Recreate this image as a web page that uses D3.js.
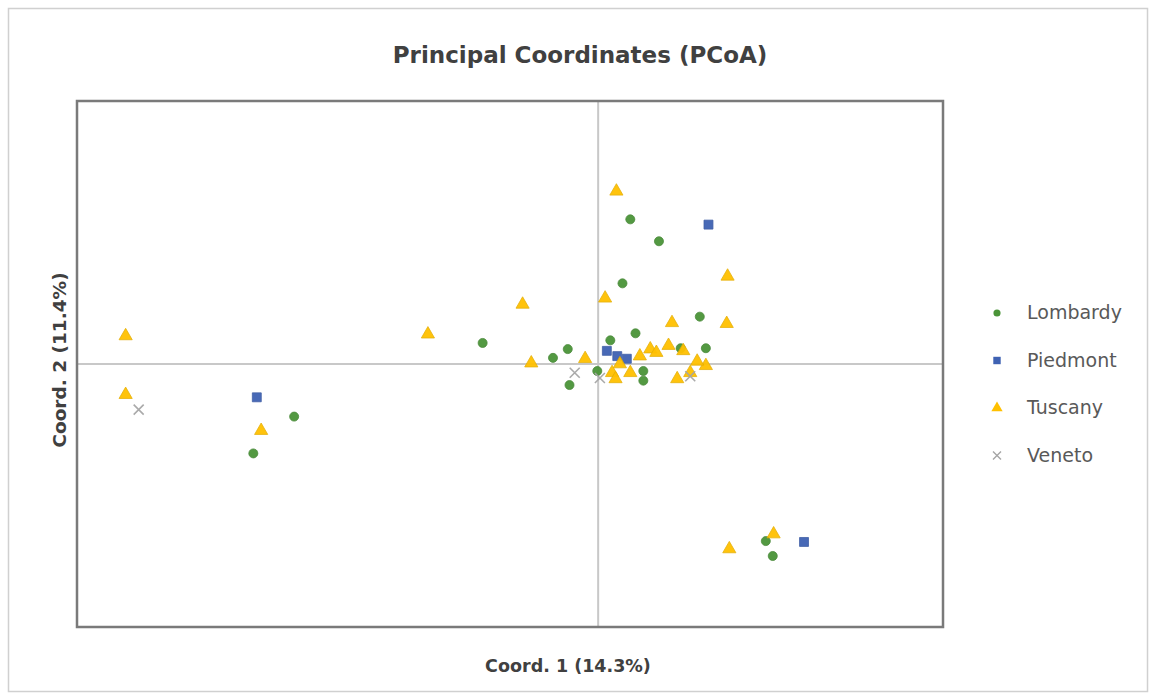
<!DOCTYPE html>
<html>
<head>
<meta charset="utf-8">
<script src="https://cdn.jsdelivr.net/npm/d3@7"></script>
<style>
  body { margin: 0; background: #fff; }
  svg { display: block; }
</style>
</head>
<body>
<svg id="chart" width="1153" height="693"></svg>
<script>
// PCoA scores (coord1, coord2)
const lombardy = [
  [0.037, 0.165], [0.070, 0.140], [0.028, 0.092], [0.117, 0.054], [-0.133, 0.024],
  [-0.350, -0.060], [-0.397, -0.102], [0.193, -0.202], [0.201, -0.219], [-0.035, 0.017],
  [-0.052, 0.007], [-0.033, -0.024], [0.043, 0.035], [0.124, 0.018], [0.095, 0.018],
  [0.052, -0.008], [0.052, -0.019], [0.014, 0.027], [-0.001, -0.008]
];
const piedmont = [
  [0.127, 0.159], [-0.393, -0.038], [0.237, -0.203], [0.010, 0.015], [0.022, 0.009], [0.033, 0.006]
];
const tuscany = [
  [0.021, 0.197], [0.149, 0.100], [0.008, 0.075], [-0.087, 0.068], [0.148, 0.046],
  [0.085, 0.047], [-0.196, 0.034], [-0.544, 0.032], [-0.544, -0.035], [-0.388, -0.076],
  [0.151, -0.211], [0.202, -0.194], [-0.077, 0.001], [-0.015, 0.006], [0.016, -0.010],
  [0.025, 0.000], [0.048, 0.009], [0.060, 0.017], [0.067, 0.013], [0.091, -0.017],
  [0.106, -0.010], [0.124, -0.002], [0.114, 0.003], [0.020, -0.017], [0.037, -0.010],
  [0.081, 0.021], [0.098, 0.015]
];
const veneto = [
  [-0.529, -0.052], [-0.027, -0.010], [0.002, -0.016], [0.106, -0.014]
];

const seriesNames = ["Lombardy", "Piedmont", "Tuscany", "Veneto"];
const seriesData = [lombardy, piedmont, tuscany, veneto];
const seriesColors = ["#4a9438", "#3f62b3", "#ffc000", "#a5a5a5"];
const seriesSymbols = [d3.symbolCircle, d3.symbolSquare, d3.symbolTriangle, d3.symbolCross];

const xDomain = [-0.6, 0.397];
const yDomain = [-0.3, 0.3];

const svg = d3.select("#chart");
const plot = { left: 77, top: 101, right: 943, bottom: 627 };

// outer chart border
svg.append("rect")
  .attr("x", 8.5).attr("y", 8.5)
  .attr("width", 1139).attr("height", 683)
  .attr("fill", "#fff")
  .attr("stroke", "#d0d0d0")
  .attr("stroke-width", 1.5);

const x = d3.scaleLinear().domain(xDomain).range([plot.left, plot.right]);
const y = d3.scaleLinear().domain(yDomain).range([plot.bottom, plot.top]);

// zero lines
svg.append("line")
  .attr("x1", x(0)).attr("x2", x(0))
  .attr("y1", plot.top).attr("y2", plot.bottom)
  .attr("stroke", "#c8c8c8").attr("stroke-width", 2);
svg.append("line")
  .attr("x1", plot.left).attr("x2", plot.right)
  .attr("y1", y(0)).attr("y2", y(0))
  .attr("stroke", "#c8c8c8").attr("stroke-width", 2);

// plot frame
svg.append("rect")
  .attr("x", plot.left).attr("y", plot.top)
  .attr("width", plot.right - plot.left)
  .attr("height", plot.bottom - plot.top)
  .attr("fill", "none")
  .attr("stroke", "#7a7a7a")
  .attr("stroke-width", 2.5);

function markerPath(i) {
  if (i === 3) {
    // x-shaped marker
    return "M-5,-5L5,5M-5,5L5,-5";
  }
  const sizes = [64, 80, 75];
  return d3.symbol().type(seriesSymbols[i]).size(sizes[i])();
}

seriesData.forEach((data, i) => {
  const g = svg.append("g").attr("class", "series-" + seriesNames[i]);
  g.selectAll("path")
    .data(data)
    .enter()
    .append("path")
    .attr("transform", d => `translate(${x(d[0])},${y(d[1])})`)
    .attr("d", markerPath(i))
    .attr("fill", i === 3 ? "none" : seriesColors[i])
    .attr("stroke", i === 3 ? seriesColors[i] : d3.color(seriesColors[i]).darker(0.3))
    .attr("stroke-width", i === 3 ? 1.6 : 0.8)
    .attr("opacity", 0.95);
});

// titles
svg.append("text")
  .attr("x", 580).attr("y", 63)
  .attr("text-anchor", "middle")
  .attr("font-family", "DejaVu Sans, sans-serif")
  .attr("font-weight", "bold")
  .attr("font-size", 23)
  .attr("fill", "#404040")
  .text("Principal Coordinates (PCoA)");

svg.append("text")
  .attr("x", 568).attr("y", 672)
  .attr("text-anchor", "middle")
  .attr("font-family", "DejaVu Sans, sans-serif")
  .attr("font-weight", "bold")
  .attr("font-size", 17.5)
  .attr("fill", "#404040")
  .text("Coord. 1 (14.3%)");

svg.append("text")
  .attr("transform", "translate(66,360) rotate(-90)")
  .attr("text-anchor", "middle")
  .attr("font-family", "DejaVu Sans, sans-serif")
  .attr("font-weight", "bold")
  .attr("font-size", 18.5)
  .attr("fill", "#404040")
  .text("Coord. 2 (11.4%)");

// legend
const legend = svg.append("g").attr("transform", "translate(997,313)");
seriesNames.forEach((name, i) => {
  const row = legend.append("g").attr("transform", `translate(0,${i * 47.5})`);
  row.append("path")
    .attr("d", i === 3 ? "M-4,-4L4,4M-4,4L4,-4" : d3.symbol().type(seriesSymbols[i]).size([40, 55, 55][i])())
    .attr("fill", i === 3 ? "none" : seriesColors[i])
    .attr("stroke", i === 3 ? seriesColors[i] : "none")
    .attr("stroke-width", 1.4);
  row.append("text")
    .attr("x", 30).attr("y", 6)
    .attr("font-family", "DejaVu Sans, sans-serif")
    .attr("font-size", 19)
    .attr("fill", "#595959")
    .text(name);
});
</script>
</body>
</html>
